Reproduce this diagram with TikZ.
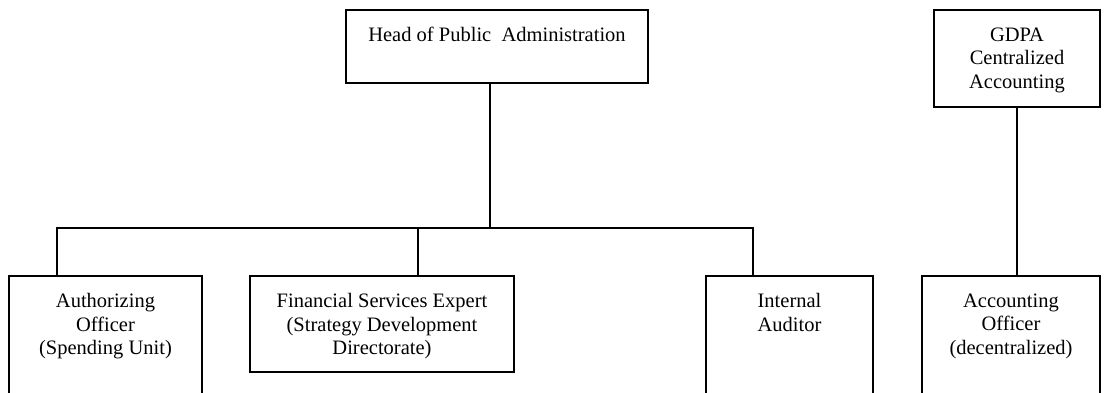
\documentclass[tikz,border=0pt]{standalone}
\usepackage{fontspec}
\setmainfont{Liberation Serif}
\usetikzlibrary{positioning}

\begin{document}
\begin{tikzpicture}[x=1pt, y=-1pt, line width=2pt,
    org box/.style={rectangle, draw, anchor=north west, inner sep=0pt, outer sep=0pt},
    org text/.style={align=center, anchor=north, inner sep=0pt, font=\fontsize{20.5}{23.5}\selectfont}]
\clip (0,0) rectangle (1107,392);
% boxes: name/left/top/width/height
\foreach \n/\x/\y/\w/\h in {head/346/10/302/73, gdpa/934/10/166/97, auth/9/276/193/150,
    fse/250/276/264/96, ia/706/276/167/150, ao/922/276/178/150}{
    \node[org box, minimum width=\w pt, minimum height=\h pt] (\n) at (\x,\y) {};}
% the texts hang from the top edge of each box
\foreach \n/\t in {head/{Head of Public~ Administration}, gdpa/{GDPA\\Centralized\\Accounting},
    auth/{Authorizing\\Officer\\(Spending Unit)},
    fse/{Financial Services Expert\\(Strategy Development\\Directorate)},
    ia/{Internal\\Auditor}, ao/{Accounting\\Officer\\(decentralized)}}{
    \node[org text] (\n-t) at ([yshift=-16.5pt]\n.north) {\t};}
% drop points on the bar
\coordinate (j-head) at (490,228);
\coordinate (j-auth) at (57,228);
\coordinate (j-fse) at (418,228);
\coordinate (j-ia) at (753,228);
\draw (head.south -| j-head) -- (j-head);
\draw (auth.north -| j-auth) |- (j-ia) -- (ia.north -| j-ia);
\draw (j-fse) -- (fse.north -| j-fse);
\draw (gdpa.south) -- (ao.north -| gdpa.south);
\end{tikzpicture}
\end{document}
